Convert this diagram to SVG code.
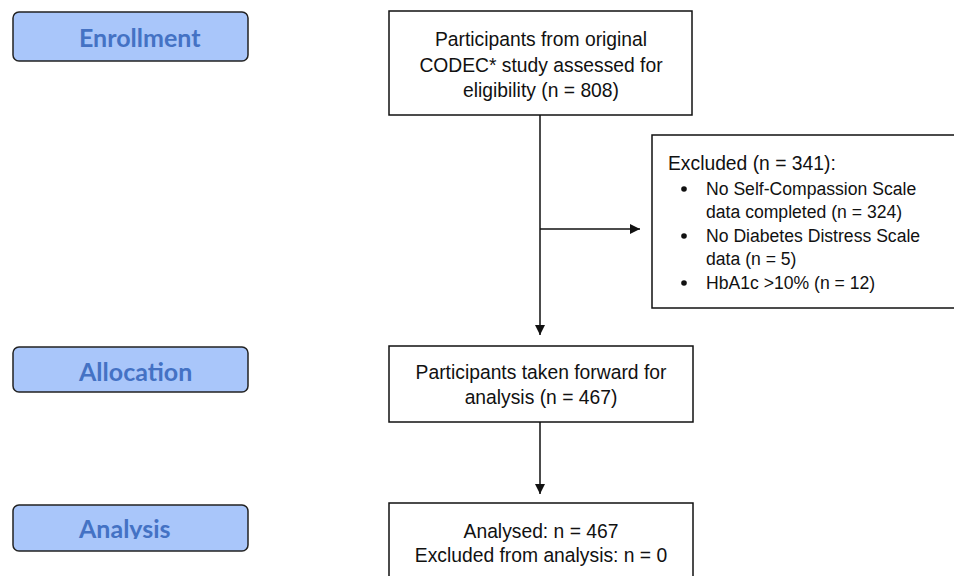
<svg xmlns="http://www.w3.org/2000/svg" width="954" height="576" viewBox="0 0 954 576">
<style>
.stage{fill:#a9c6fa;stroke:#222;stroke-width:1.5}
.stxt{font-family:Lato,"Open Sans",sans-serif;font-weight:bold;font-size:25px;fill:#4472c4}
.box{fill:#fff;stroke:#111;stroke-width:1.5}
.t{font-family:"Liberation Sans",Arial,sans-serif;font-size:19.3px;fill:#111}
.s{font-size:17.6px}
.c{text-anchor:middle}
.ln{stroke:#111;stroke-width:1.5;fill:none}
</style>
<defs>
<marker id="ah" markerWidth="10" markerHeight="10" refX="10" refY="5" orient="auto" markerUnits="userSpaceOnUse">
<path d="M0,0 L10,5 L0,10 Z" fill="#111"/>
</marker>
<clipPath id="clipA"><rect x="13" y="505" width="235" height="34"/></clipPath>
</defs>
<rect width="954" height="576" fill="#fff"/>
<g id="enrollment">
<rect class="stage" x="13" y="12" width="235" height="49" rx="6"/>
<text class="stxt" x="79" y="47">Enrollment</text>
</g>
<g id="allocation">
<rect class="stage" x="13" y="347" width="235" height="45" rx="6"/>
<text class="stxt" x="79" y="381">Allocation</text>
</g>
<g id="analysis">
<rect class="stage" x="13" y="505" width="235" height="46" rx="6"/>
<text class="stxt" x="79" y="538" clip-path="url(#clipA)">Analysis</text>
</g>
<g id="assessed">
<rect class="box" x="389" y="11" width="303" height="104"/>
<text class="t c" x="541" y="46">Participants from original</text>
<text class="t c" x="541" y="72">CODEC* study assessed for</text>
<text class="t c" x="541" y="97">eligibility (n = 808)</text>
</g>
<g id="excluded">
<rect class="box" x="652" y="135" width="310" height="173"/>
<text class="t" x="668" y="170">Excluded (n = 341):</text>
<circle cx="684" cy="189" r="2.8" fill="#111"/>
<text class="t s" x="706" y="195">No Self-Compassion Scale</text>
<text class="t s" x="706" y="218">data completed (n = 324)</text>
<circle cx="684" cy="236" r="2.8" fill="#111"/>
<text class="t s" x="706" y="242">No Diabetes Distress Scale</text>
<text class="t s" x="706" y="265">data (n = 5)</text>
<circle cx="684" cy="283" r="2.8" fill="#111"/>
<text class="t s" x="706" y="289">HbA1c &gt;10% (n = 12)</text>
</g>
<g id="forward">
<rect class="box" x="389" y="346" width="304" height="76"/>
<text class="t c" x="541" y="379">Participants taken forward for</text>
<text class="t c" x="541" y="404">analysis (n = 467)</text>
</g>
<g id="analysed">
<rect class="box" x="389" y="503" width="304" height="90"/>
<text class="t c" x="541" y="538">Analysed: n = 467</text>
<text class="t c" x="541" y="562">Excluded from analysis: n = 0</text>
</g>
<g id="connectors">
<line class="ln" x1="540" y1="115" x2="540" y2="335" marker-end="url(#ah)"/>
<line class="ln" x1="540" y1="229" x2="640" y2="229" marker-end="url(#ah)"/>
<line class="ln" x1="540" y1="422" x2="540" y2="494" marker-end="url(#ah)"/>
</g>
</svg>
